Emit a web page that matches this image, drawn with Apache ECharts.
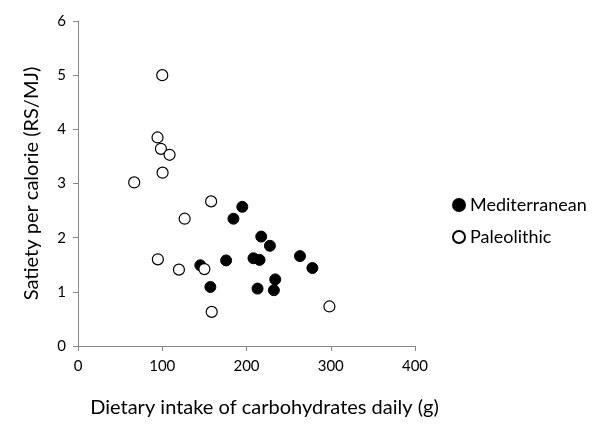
<!DOCTYPE html>
<html><head><meta charset="utf-8">
<script src="https://cdn.jsdelivr.net/npm/echarts@6/dist/echarts.min.js"></script>
<style>html,body{margin:0;padding:0;background:#fff}#c{width:600px;height:433px}</style>
</head><body><div id="c"></div>
<script>
const xTitle = "Dietary intake of carbohydrates daily (g)";
const yTitle = "Satiety per calorie (RS/MJ)";
const seriesNames = ["Mediterranean", "Paleolithic"];
const medX = [195, 184.5, 217.5, 227.8, 175.8, 208.3, 215.5, 263.5, 278.2, 145.2, 234.1, 157.1, 213.1, 232.5];
const medY = [2.57, 2.35, 2.02, 1.85, 1.58, 1.62, 1.59, 1.66, 1.44, 1.49, 1.23, 1.09, 1.06, 1.03];
const paleoX = [100, 94.4, 98.4, 108.7, 100.4, 66.7, 158, 126.6, 94.8, 119.8, 150, 158.7, 298.4];
const paleoY = [5.0, 3.85, 3.64, 3.53, 3.20, 3.02, 2.67, 2.35, 1.60, 1.41, 1.42, 0.63, 0.73];

const font = "Lato, 'Noto Sans', sans-serif";
const chart = echarts.init(document.getElementById('c'), null, {renderer: 'canvas'});
const axisCommon = {
  axisLine: {show: true, lineStyle: {color: '#868686', width: 1}},
  axisTick: {show: true, length: 5, lineStyle: {color: '#868686'}},
  splitLine: {show: false},
  axisLabel: {color: '#000', fontFamily: font, fontSize: 15},
  nameTextStyle: {color: '#000', fontFamily: font, fontSize: 20}
};
chart.setOption({
  animation: false,
  grid: {left: 78, right: 185, top: 21, bottom: 87, containLabel: false},
  xAxis: Object.assign({}, axisCommon, {
    type: 'value', min: 0, max: 400, interval: 100,
    name: xTitle, nameLocation: 'middle', nameGap: 52,
    nameTextStyle: Object.assign({}, axisCommon.nameTextStyle, {padding: [0, 0, 0, 36]}),
    axisLabel: Object.assign({}, axisCommon.axisLabel, {margin: 13})
  }),
  yAxis: Object.assign({}, axisCommon, {
    type: 'value', min: 0, max: 6, interval: 1,
    name: yTitle, nameLocation: 'middle', nameGap: 36, nameRotate: 90,
    axisLabel: Object.assign({}, axisCommon.axisLabel, {margin: 12})
  }),
  legend: {
    orient: 'vertical', left: 447, top: 191, itemGap: 14,
    itemWidth: 12, itemHeight: 12,
    textStyle: {color: '#000', fontFamily: font, fontSize: 18},
    data: [
      {name: seriesNames[0], icon: 'circle'},
      {name: seriesNames[1], icon: 'circle'}
    ]
  },
  series: [
    {
      name: seriesNames[0], type: 'scatter', symbol: 'circle', symbolSize: 11,
      itemStyle: {color: '#000', borderColor: '#000', borderWidth: 1, opacity: 1},
      data: medX.map((x, i) => [x, medY[i]])
    },
    {
      name: seriesNames[1], type: 'scatter', symbol: 'circle', symbolSize: 11,
      itemStyle: {color: '#fff', borderColor: '#000', borderWidth: 1.2, opacity: 1},
      data: paleoX.map((x, i) => [x, paleoY[i]])
    }
  ]
});
</script></body></html>
